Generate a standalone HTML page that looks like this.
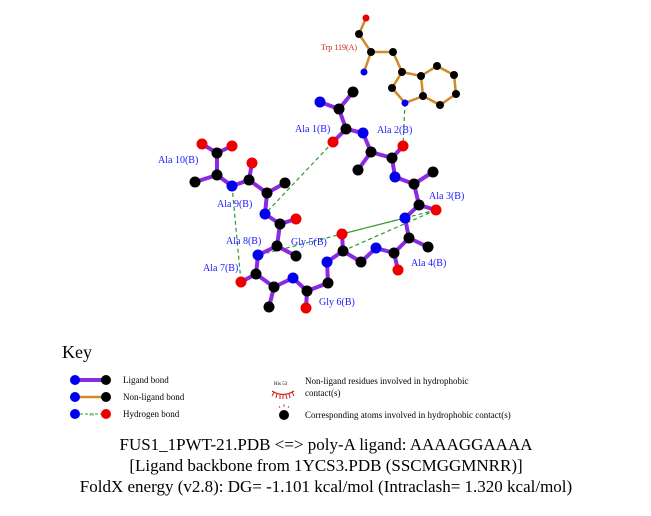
<!DOCTYPE html>
<html><head><style>
body{margin:0;background:#fff;width:651px;height:511px;overflow:hidden;font-family:"Liberation Serif",serif;}
</style></head><body>
<svg width="651" height="511" viewBox="0 0 651 511" xmlns="http://www.w3.org/2000/svg" font-family="Liberation Serif, serif">
<!-- Trp bonds -->
<g stroke="#d08a2a" stroke-width="2.5" fill="none">
<polyline points="366,18 359,34 371,52 364,72"/>
<polyline points="371,52 393,52 402,72 392,88 405,103 423,96 421,76 402,72"/>
<polyline points="421,76 437,66 454,75 456,94 440,105 423,96"/>
</g>
<!-- H-bonds -->
<g stroke="#2a9a2a" stroke-width="1.2" stroke-dasharray="4,3" fill="none">
<line x1="333" y1="142" x2="265" y2="214"/>
<line x1="232" y1="186" x2="241" y2="282"/>
<line x1="405" y1="103" x2="403" y2="146"/>
<line x1="436" y1="210" x2="342" y2="234"/>
<line x1="436" y1="210" x2="345" y2="250"/>
<line x1="405" y1="218" x2="267" y2="253"/>
</g>
<!-- Ligand bonds -->
<g stroke="#8a2be2" stroke-width="4" fill="none" stroke-linejoin="round">
<polyline points="320,102 339,109 353,92"/>
<polyline points="339,109 346,129 333,142"/>
<polyline points="346,129 363,133 371,152 392,158 403,146"/>
<polyline points="371,152 358,170"/>
<polyline points="392,158 395,177 414,184 433,172"/>
<polyline points="414,184 419,205 436,210"/>
<polyline points="419,205 405,218 409,238 428,247"/>
<polyline points="409,238 394,253 398,270"/>
<polyline points="394,253 376,248 361,262 343,251 342,234"/>
<polyline points="343,251 327,262 328,283 307,291 306,308"/>
<polyline points="307,291 293,278 274,287 269,307"/>
<polyline points="274,287 256,274 241,282"/>
<polyline points="256,274 258,255 277,246 296,256"/>
<polyline points="277,246 280,224 296,219"/>
<polyline points="280,224 265,214 267,193 285,183"/>
<polyline points="267,193 249,180 252,163"/>
<polyline points="249,180 232,186 217,175 195,182"/>
<polyline points="217,175 217,153 202,144"/>
<polyline points="217,153 232,146"/>
</g>
<!-- atoms -->
<g fill="#000">
<circle cx="359" cy="34" r="4"/><circle cx="371" cy="52" r="4"/><circle cx="393" cy="52" r="4"/><circle cx="402" cy="72" r="4"/><circle cx="392" cy="88" r="4"/><circle cx="423" cy="96" r="4"/><circle cx="421" cy="76" r="4"/><circle cx="437" cy="66" r="4"/><circle cx="454" cy="75" r="4"/><circle cx="456" cy="94" r="4"/><circle cx="440" cy="105" r="4"/>
<circle cx="339" cy="109" r="5.5"/><circle cx="353" cy="92" r="5.5"/><circle cx="346" cy="129" r="5.5"/><circle cx="371" cy="152" r="5.5"/><circle cx="392" cy="158" r="5.5"/><circle cx="358" cy="170" r="5.5"/>
<circle cx="414" cy="184" r="5.5"/><circle cx="433" cy="172" r="5.5"/><circle cx="419" cy="205" r="5.5"/><circle cx="409" cy="238" r="5.5"/><circle cx="428" cy="247" r="5.5"/><circle cx="394" cy="253" r="5.5"/>
<circle cx="361" cy="262" r="5.5"/><circle cx="343" cy="251" r="5.5"/><circle cx="328" cy="283" r="5.5"/><circle cx="307" cy="291" r="5.5"/><circle cx="274" cy="287" r="5.5"/><circle cx="269" cy="307" r="5.5"/><circle cx="256" cy="274" r="5.5"/>
<circle cx="277" cy="246" r="5.5"/><circle cx="296" cy="256" r="5.5"/><circle cx="280" cy="224" r="5.5"/><circle cx="267" cy="193" r="5.5"/><circle cx="285" cy="183" r="5.5"/><circle cx="249" cy="180" r="5.5"/>
<circle cx="217" cy="175" r="5.5"/><circle cx="195" cy="182" r="5.5"/><circle cx="217" cy="153" r="5.5"/>
</g>
<g fill="#0000ee">
<circle cx="364" cy="72" r="3.5"/><circle cx="405" cy="103" r="3.5"/>
<circle cx="320" cy="102" r="5.5"/><circle cx="363" cy="133" r="5.5"/><circle cx="395" cy="177" r="5.5"/><circle cx="405" cy="218" r="5.5"/><circle cx="376" cy="248" r="5.5"/><circle cx="327" cy="262" r="5.5"/><circle cx="293" cy="278" r="5.5"/><circle cx="258" cy="255" r="5.5"/><circle cx="265" cy="214" r="5.5"/><circle cx="232" cy="186" r="5.5"/>
</g>
<g fill="#ee0000">
<circle cx="366" cy="18" r="3.5"/>
<circle cx="333" cy="142" r="5.5"/><circle cx="403" cy="146" r="5.5"/><circle cx="436" cy="210" r="5.5"/><circle cx="398" cy="270" r="5.5"/><circle cx="342" cy="234" r="5.5"/><circle cx="306" cy="308" r="5.5"/><circle cx="241" cy="282" r="5.5"/><circle cx="296" cy="219" r="5.5"/><circle cx="252" cy="163" r="5.5"/><circle cx="202" cy="144" r="5.5"/><circle cx="232" cy="146" r="5.5"/>
</g>
<!-- labels -->
<text x="321" y="50" font-size="8" fill="#cc2222">Trp 119(A)</text>
<g font-size="10" fill="#1a1aff">
<text x="295" y="132">Ala 1(B)</text>
<text x="377" y="133">Ala 2(B)</text>
<text x="429" y="199">Ala 3(B)</text>
<text x="411" y="266">Ala 4(B)</text>
<text x="291" y="245">Gly 5(B)</text>
<text x="319" y="305">Gly 6(B)</text>
<text x="203" y="271">Ala 7(B)</text>
<text x="226" y="244">Ala 8(B)</text>
<text x="217" y="207">Ala 9(B)</text>
<text x="158" y="163">Ala 10(B)</text>
</g>
<!-- Key -->
<text x="62" y="358" font-size="18">Key</text>
<line x1="75" y1="380" x2="105" y2="380" stroke="#8a2be2" stroke-width="4"/>
<circle cx="75" cy="380" r="5" fill="#0000ee"/><circle cx="106" cy="380" r="5" fill="#000"/>
<line x1="75" y1="397" x2="105" y2="397" stroke="#d08a2a" stroke-width="2.5"/>
<circle cx="75" cy="397" r="5" fill="#0000ee"/><circle cx="106" cy="397" r="5" fill="#000"/>
<line x1="75" y1="414" x2="105" y2="414" stroke="#2a9a2a" stroke-width="1" stroke-dasharray="3,2"/>
<circle cx="75" cy="414" r="5" fill="#0000ee"/><circle cx="106" cy="414" r="5" fill="#ee0000"/>
<text x="89" y="416" font-size="4" fill="#2a9a2a">3.0</text>
<g font-size="9">
<text x="123" y="383">Ligand bond</text>
<text x="123" y="400">Non-ligand bond</text>
<text x="123" y="417">Hydrogen bond</text>
<text x="305" y="384">Non-ligand residues involved in hydrophobic</text>
<text x="305" y="396">contact(s)</text>
<text x="305" y="418">Corresponding atoms involved in hydrophobic contact(s)</text>
</g>
<text x="274" y="385" font-size="5">His 53</text>
<path d="M272,391 Q283,398 294,391" stroke="#cc2222" fill="none" stroke-width="1.2"/>
<g stroke="#cc2222" stroke-width="1"><line x1="274" y1="392" x2="272" y2="396"/><line x1="277" y1="394" x2="276" y2="398"/><line x1="280" y1="395" x2="280" y2="399"/><line x1="283" y1="395" x2="283" y2="399"/><line x1="286" y1="395" x2="287" y2="399"/><line x1="289" y1="394" x2="290" y2="398"/><line x1="292" y1="392" x2="294" y2="396"/></g>
<circle cx="284" cy="415" r="5" fill="#000"/>
<g stroke="#cc2222" stroke-width="0.8"><line x1="280" y1="408" x2="279" y2="406"/><line x1="284" y1="407" x2="284" y2="404"/><line x1="288" y1="408" x2="289" y2="406"/></g>
<!-- Title -->
<g font-size="17" text-anchor="middle">
<text x="326" y="450">FUS1_1PWT-21.PDB &lt;=&gt; poly-A ligand: AAAAGGAAAA</text>
<text x="326" y="471">[Ligand backbone from 1YCS3.PDB (SSCMGGMNRR)]</text>
<text x="326" y="492">FoldX energy (v2.8): DG= -1.101 kcal/mol (Intraclash= 1.320 kcal/mol)</text>
</g>
</svg>
</body></html>
